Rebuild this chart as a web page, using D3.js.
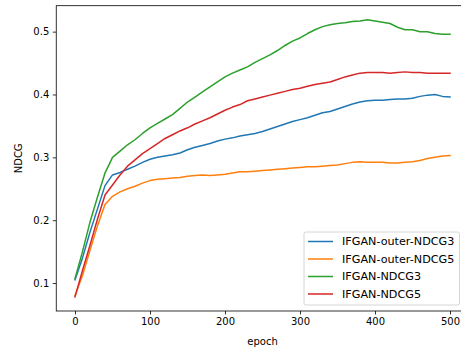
<!DOCTYPE html>
<html><head><meta charset="utf-8">
<script src="https://cdn.jsdelivr.net/npm/d3@7"></script>
<style>body{margin:0;background:#fff}svg{display:block}text{font-family:"DejaVu Sans",sans-serif}</style>
</head><body><svg id="c" width="461" height="349"></svg>
<script>
const epochs = [0,10,20,30,40,50,60,70,80,90,100,110,120,130,140,150,160,170,180,190,200,210,220,230,240,250,260,270,280,290,300,310,320,330,340,350,360,370,380,390,400,410,420,430,440,450,460,470,480,490,500];
const outerNDCG3 = [0.105,0.140,0.181,0.218,0.255,0.272,0.276,0.281,0.286,0.292,0.297,0.300,0.302,0.304,0.307,0.312,0.316,0.319,0.322,0.326,0.329,0.331,0.334,0.336,0.338,0.341,0.345,0.349,0.353,0.357,0.360,0.363,0.367,0.371,0.373,0.377,0.381,0.385,0.388,0.390,0.391,0.391,0.392,0.393,0.393,0.394,0.397,0.399,0.400,0.397,0.396];
const outerNDCG5 = [0.080,0.112,0.152,0.191,0.225,0.238,0.245,0.250,0.254,0.259,0.263,0.265,0.266,0.267,0.268,0.270,0.271,0.272,0.271,0.272,0.273,0.275,0.277,0.277,0.278,0.279,0.280,0.281,0.282,0.283,0.284,0.285,0.285,0.286,0.287,0.288,0.290,0.292,0.293,0.292,0.292,0.292,0.291,0.291,0.292,0.293,0.295,0.298,0.300,0.302,0.303];
const NDCG3 = [0.107,0.150,0.197,0.237,0.275,0.300,0.310,0.320,0.328,0.338,0.347,0.354,0.361,0.368,0.378,0.388,0.396,0.404,0.412,0.420,0.428,0.434,0.439,0.444,0.451,0.457,0.463,0.470,0.478,0.485,0.490,0.497,0.503,0.508,0.511,0.513,0.514,0.516,0.517,0.519,0.517,0.515,0.513,0.507,0.503,0.503,0.500,0.500,0.497,0.496,0.496];
const NDCG5 = [0.078,0.120,0.160,0.202,0.240,0.256,0.272,0.286,0.296,0.306,0.314,0.322,0.330,0.336,0.342,0.347,0.353,0.358,0.363,0.369,0.375,0.380,0.384,0.390,0.393,0.396,0.399,0.402,0.405,0.408,0.410,0.413,0.416,0.418,0.420,0.424,0.428,0.431,0.434,0.435,0.435,0.435,0.434,0.435,0.436,0.435,0.435,0.434,0.434,0.434,0.434];
const seriesNames = ["IFGAN-outer-NDCG3","IFGAN-outer-NDCG5","IFGAN-NDCG3","IFGAN-NDCG5"];
const seriesValues = [outerNDCG3, outerNDCG5, NDCG3, NDCG5];
const colors = ["#1f77b4","#ff7f0e","#2ca02c","#d62728"];
const xTicks = [0,100,200,300,400,500];
const yTicks = [0.1,0.2,0.3,0.4,0.5];

const svg = d3.select("#c");
const L=56.25, R=468.75, T=5.7, B=311;
const x = d3.scaleLinear().domain([-25,525]).range([L,R]);
const y = d3.scaleLinear().domain([0.0555,0.5413]).range([B,T]);

const line = d3.line().x((d,i)=>x(epochs[i])).y(d=>y(d));
seriesValues.forEach((vals,k)=>{
  svg.append("path").datum(vals).attr("d",line).attr("fill","none")
    .attr("stroke",colors[k]).attr("stroke-width",1.5).attr("stroke-linejoin","round").attr("stroke-linecap","square");
});

const xa = svg.append("g").attr("transform",`translate(0,${B})`)
  .call(d3.axisBottom(x).tickValues(xTicks).tickSize(3.5).tickPadding(3.5).tickFormat(d3.format("d")));
const ya = svg.append("g").attr("transform",`translate(${L},0)`)
  .call(d3.axisLeft(y).tickValues(yTicks).tickSize(3.5).tickPadding(3.5).tickFormat(d3.format(".1f")));
[xa,ya].forEach(a=>{
  a.select(".domain").remove();
  a.selectAll("line").attr("stroke","#000").attr("stroke-width",0.8);
  a.selectAll("text").attr("font-size",10).attr("fill","#000").attr("font-family","DejaVu Sans");
});
svg.append("rect").attr("x",L).attr("y",T).attr("width",R-L).attr("height",B-T)
  .attr("fill","none").attr("stroke","#000").attr("stroke-width",0.8);

svg.append("text").attr("x",(L+R)/2).attr("y",345).attr("text-anchor","middle").attr("font-size",10).text("epoch");
svg.append("text").attr("transform",`translate(22,${(T+B)/2}) rotate(-90)`).attr("text-anchor","middle").attr("font-size",10).text("NDCG");

const lg = svg.append("g");
lg.append("rect").attr("x",304).attr("y",232).attr("width",155.5).attr("height",73).attr("rx",2)
  .attr("fill","#fff").attr("fill-opacity",0.8).attr("stroke","#ccc").attr("stroke-width",0.8);
seriesNames.forEach((n,k)=>{
  const yy = 241.5 + k*17.5;
  lg.append("line").attr("x1",308).attr("x2",333).attr("y1",yy).attr("y2",yy).attr("stroke",colors[k]).attr("stroke-width",1.5);
  lg.append("text").attr("x",342).attr("y",yy).attr("dy","0.35em").attr("font-size",11.2).text(n);
});
</script></body></html>
